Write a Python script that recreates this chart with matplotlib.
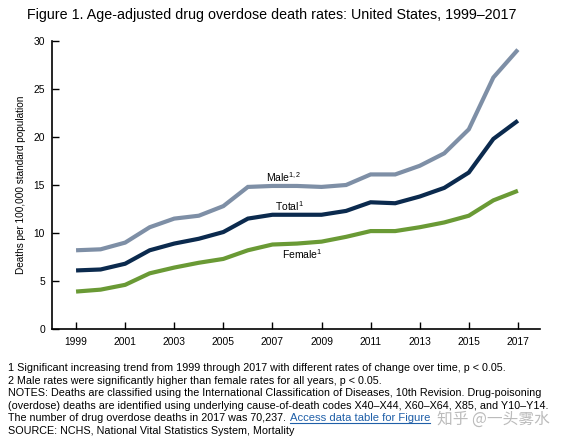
import matplotlib
matplotlib.use("Agg")
import matplotlib.pyplot as plt

plt.rcParams['font.family'] = ['Liberation Sans', 'DejaVu Sans']
plt.rcParams['mathtext.fontset'] = 'custom'
plt.rcParams['mathtext.rm'] = 'Liberation Sans'
plt.rcParams['mathtext.it'] = 'Liberation Sans'

years = list(range(1999, 2018))
male = [8.2, 8.3, 9.0, 10.6, 11.5, 11.8, 12.8, 14.8, 14.9, 14.9, 14.8, 15.0,
        16.1, 16.1, 17.0, 18.3, 20.8, 26.2, 29.1]
total = [6.1, 6.2, 6.8, 8.2, 8.9, 9.4, 10.1, 11.5, 11.9, 11.9, 11.9, 12.3,
         13.2, 13.1, 13.8, 14.7, 16.3, 19.8, 21.7]
female = [3.9, 4.1, 4.6, 5.8, 6.4, 6.9, 7.3, 8.2, 8.8, 8.9, 9.1, 9.6,
          10.2, 10.2, 10.6, 11.1, 11.8, 13.4, 14.4]
xticks = list(range(1999, 2018, 2))
yticks = [0, 5, 10, 15, 20, 25, 30]

title = "Figure 1. Age-adjusted drug overdose death rates: United States, 1999\u20132017"
notes = [
    "1 Significant increasing trend from 1999 through 2017 with different rates of change over time, p < 0.05.",
    "2 Male rates were significantly higher than female rates for all years, p < 0.05.",
    "NOTES: Deaths are classified using the International Classification of Diseases, 10th Revision. Drug-poisoning",
    "(overdose) deaths are identified using underlying cause-of-death codes X40\u2013X44, X60\u2013X64, X85, and Y10\u2013Y14.",
    "The number of drug overdose deaths in 2017 was 70,237.",
    "SOURCE: NCHS, National Vital Statistics System, Mortality",
]
link_text = "Access data table for Figure"
watermark = "知乎 @一头雾水"

W, H = 566, 448
fig = plt.figure(figsize=(W/100, H/100), dpi=100)
ax = fig.add_axes([52/W, 1-329/H, (540-52)/W, (329-41)/H])

c_male, c_total, c_female = '#7E8FA6', '#0B2A4E', '#6A9A35'
for vals, c in [(male, c_male), (total, c_total), (female, c_female)]:
    ax.plot(years, vals, color=c, lw=3.0, solid_capstyle='butt', solid_joinstyle='miter')

ax.text(2007.47, 15.83, r'Male$^{1,2}$', fontsize=7.5, ha='center', va='center')
ax.text(2007.71, 12.81, r'Total$^{1}$', fontsize=7.5, ha='center', va='center')
ax.text(2008.2, 7.81, r'Female$^{1}$', fontsize=7.5, ha='center', va='center')

ax.set_xlim(1998.02, 2017.9)
ax.set_ylim(0, 30)
ax.set_xticks(xticks)
ax.set_yticks(yticks)
ax.tick_params(direction='in', length=5, width=1, labelsize=7.4, colors='black')
ax.tick_params(axis='x', pad=6)
ax.tick_params(axis='y', pad=5)
for s in ['top', 'right']:
    ax.spines[s].set_visible(False)
for s in ['left', 'bottom']:
    ax.spines[s].set_linewidth(1.2)
ax.set_ylabel('Deaths per 100,000 standard population', fontsize=7.2)
ax.yaxis.set_label_coords(-26/488, 0.5)

fig.text(27/W, 1-15/H, title, fontsize=10.3, va='center', ha='left')

y0 = 368
dy = 12.5
fs = 7.72
for i, line in enumerate(notes):
    t = fig.text(8/W, 1-(y0+i*dy)/H, line, fontsize=fs, va='center', ha='left')
    if i == 4:
        fig.canvas.draw()
        bb = t.get_window_extent()
        lk = fig.text((bb.x1+4)/W, 1-(y0+i*dy)/H, link_text,
                      fontsize=8.1, va='center', ha='left', color='#1F5FA8')
        fig.canvas.draw()
        lt = lk.get_window_extent()
        fig.add_artist(plt.Line2D([lt.x0/W, lt.x1/W],
                                  [(lt.y0-0.3)/H, (lt.y0-0.3)/H],
                                  color='#1F5FA8', lw=0.8, transform=fig.transFigure))

fig.text(437/W, 1-419/H, watermark, fontsize=11.3,
         family=['Noto Sans CJK SC', 'DejaVu Sans'], color='#BBBBBB',
         va='center', ha='left')

fig.savefig('out.png', dpi=100)
